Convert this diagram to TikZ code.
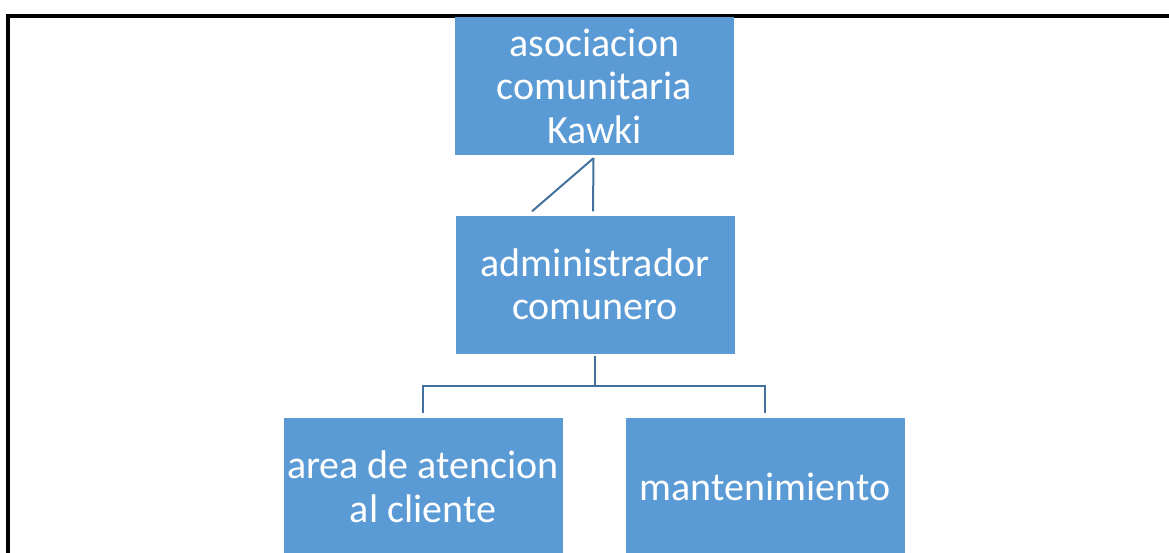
\documentclass[tikz,border=0pt]{standalone}
\usepackage{fontspec}
\setmainfont{Carlito}
\usetikzlibrary{calc}
\definecolor{boxblue}{HTML}{5B9BD5}
\definecolor{lineblue}{HTML}{41719C}
\tikzset{
  orgbox/.style={fill=boxblue, draw=none, minimum width=279pt, minimum height=138pt,
    inner sep=0pt, align=center, text=white, font=\fontsize{40}{43.5}\selectfont},
  conn/.style={draw=lineblue, line width=2pt},
}
\begin{document}
\begin{tikzpicture}[x=1pt,y=-1pt]
\useasboundingbox (0,0) rectangle (1169,552);
\clip (0,0) rectangle (1169,552);
\fill[white] (0,0) rectangle (1169,552);
\draw[black, line width=4pt] (7.5,15.5) rectangle (1200,600);
\node[orgbox] (top) at (594.5,86) {asociacion\\comunitaria\\Kawki};
\node[orgbox] (mid) at (595,284.5) {administrador\\comunero};
\node[orgbox] (left) at (423,486.5) {area de atencion\\al cliente};
\node[orgbox] (right) at (765,486.5) {mantenimiento};
\coordinate (tA) at ($(top.south)+(-1,3)$);
\coordinate (tB) at ($(mid.north)+(-2,-4)$);
\coordinate (tC) at ($(mid.north)+(-63,-4)$);
\draw[conn] (tA) -- (tB);
\draw[conn] (tA) -- (tC);
\coordinate (mA) at ($(mid.south)+(0,2)$);
\coordinate (mB) at ($(mid.south)+(0,32)$);
\draw[conn] (mA) -- (mB) -| ($(left.north)+(0,-4)$);
\draw[conn] (mB) -| ($(right.north)+(0,-4)$);
\end{tikzpicture}
\end{document}
